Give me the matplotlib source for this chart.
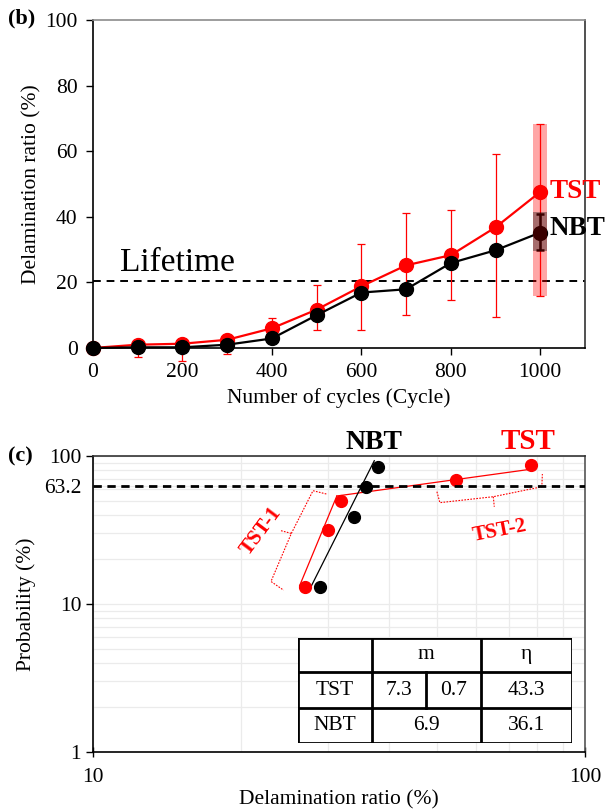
import matplotlib.pyplot as plt
from matplotlib.patches import Rectangle
from matplotlib.ticker import LogLocator, NullFormatter

plt.rcParams['font.family'] = ['Liberation Serif', 'DejaVu Serif']
plt.rcParams['font.size'] = 15.5

# (b) delamination ratio vs cycles
cycles = [0, 100, 200, 300, 400, 500, 600, 700, 800, 900, 1000]
tst_mean = [0.0, 1.0, 1.3, 2.5, 6.0, 11.7, 18.8, 25.2, 28.3, 36.8, 47.6]
nbt_mean = [0.0, 0.2, 0.2, 1.0, 2.9, 10.0, 16.9, 17.9, 25.9, 29.8, 35.2]
tst_low = [0.0, -2.6, -3.9, -1.8, 2.4, 5.6, 5.6, 10.2, 14.5, 9.5, 15.8]
tst_high = [0.0, 1.0, 1.3, 2.5, 9.2, 19.3, 31.6, 41.2, 42.2, 59.2, 68.2]
nbt_last_low, nbt_last_high = 30.0, 41.0
lifetime_level = 20.3

# (c) Weibull plot
tst_ratio = [27.0, 30.0, 31.9, 54.7, 77.7]
tst_prob = [13.0, 31.5, 50.0, 68.5, 87.0]
nbt_ratio = [28.9, 34.0, 35.8, 38.0]
nbt_prob = [13.0, 38.6, 61.4, 84.1]
tst1_fit_x, tst1_fit_y = [26.3, 31.3], [13.3, 53.7]
tst2_fit_x, tst2_fit_y = [31.3, 77.3], [53.7, 81.3]
nbt_fit_x, nbt_fit_y = [27.8, 37.3], [13.3, 93.0]
char_prob = 63.2

# bracket annotations (data coords)
tst1_brace_x = [29.8, 28.0, 25.3, 23.0, 24.4]
tst1_brace_y = [55.4, 58.3, 30.0, 14.2, 12.4]
tst1_tick_x, tst1_tick_y = [25.3, 24.1], [30.0, 31.3]
tst2_brace_x = [50.0, 50.7, 65.1, 81.7, 81.9]
tst2_brace_y = [57.4, 48.4, 53.1, 62.0, 75.6]
tst2_tick_x, tst2_tick_y = [65.1, 65.4], [53.1, 45.4]

# table
table_header = ['', 'm', 'η']
table_tst = ['TST', '7.3', '0.7', '43.3']
table_nbt = ['NBT', '6.9', '36.1']

RED = '#ff0000'

fig = plt.figure(figsize=(6.07, 8.10), dpi=100)

# ---------------- (b) ----------------
ax = fig.add_axes([0.1532, 0.5704, 0.8106, 0.4049])
ax.errorbar(cycles, tst_mean,
            yerr=[[m - l for m, l in zip(tst_mean, tst_low)],
                  [h - m for m, h in zip(tst_mean, tst_high)]],
            fmt='none', ecolor=RED, elinewidth=0.9, capsize=3, capthick=0.9,
            zorder=2, clip_on=False)
ax.plot(cycles, tst_mean, '-o', color=RED, lw=1.6, ms=10, zorder=3, clip_on=False)
ax.plot(cycles, nbt_mean, '-o', color='black', lw=1.6, ms=10, zorder=4, clip_on=False)
ax.errorbar([cycles[-1]], [nbt_mean[-1]],
            yerr=[[nbt_mean[-1] - nbt_last_low], [nbt_last_high - nbt_mean[-1]]],
            fmt='none', ecolor='black', elinewidth=1.8, capsize=3, capthick=1.8, zorder=5)
ax.add_patch(Rectangle((cycles[-1] - 16, tst_low[-1]), 32, tst_high[-1] - tst_low[-1],
                       facecolor=RED, alpha=0.35, edgecolor='none', zorder=6))
ax.add_patch(Rectangle((cycles[-1] - 16, nbt_last_low - 0.5), 32, nbt_last_high - nbt_last_low + 1,
                       facecolor='black', alpha=0.35, edgecolor='none', zorder=6))
ax.axhline(lifetime_level, color='black', ls=(0, (4, 3)), lw=1.4, zorder=1)
ax.text(60, lifetime_level + 3.3, 'Lifetime', fontsize=24, ha='left', va='baseline')
ax.text(1021, tst_mean[-1], 'TST', color=RED, fontsize=19.5, fontweight='bold',
        ha='left', va='center', clip_on=False)
ax.text(1021, nbt_mean[-1] + 1.2, 'NBT', color='black', fontsize=19.5, fontweight='bold',
        ha='left', va='center', clip_on=False)

ax.set_xlim(0, 1100)
ax.set_ylim(0, 100)
ax.set_xticks(range(0, 1001, 200))
ax.set_yticks(range(0, 101, 20))
ax.tick_params(direction='out', length=5, width=1, pad=6)
ax.set_xlabel('Number of cycles (Cycle)')
ax.set_ylabel('Delamination ratio (%)')
ax.yaxis.set_label_coords(-0.105, 0.5)
ax.spines['top'].set_color('#8c8c8c')
ax.spines['right'].set_color('#333333')
for s in ax.spines.values():
    s.set_linewidth(1.2)

# ---------------- (c) ----------------
bx = fig.add_axes([0.1532, 0.0716, 0.8106, 0.3654])
bx.set_xscale('log')
bx.set_yscale('log')
bx.set_xlim(10, 100)
bx.set_ylim(1, 100)
bx.xaxis.set_minor_locator(LogLocator(base=10, subs=range(2, 10)))
bx.yaxis.set_minor_locator(LogLocator(base=10, subs=range(2, 10)))
bx.xaxis.set_minor_formatter(NullFormatter())
bx.yaxis.set_minor_formatter(NullFormatter())
bx.grid(True, which='both', color='#ebebeb', lw=0.9, zorder=0)

bx.plot(tst1_fit_x, tst1_fit_y, color=RED, lw=0.9, zorder=3)
bx.plot(tst2_fit_x, tst2_fit_y, color=RED, lw=0.9, zorder=3)
bx.plot(nbt_fit_x, nbt_fit_y, color='black', lw=0.9, zorder=3)
bx.plot(tst_ratio, tst_prob, 'o', color=RED, ms=8.5, zorder=4)
bx.plot(nbt_ratio, nbt_prob, 'o', color='black', ms=8.5, zorder=4)
bx.axhline(char_prob, color='black', ls=(0, (3, 2)), lw=2.0, zorder=5)

brace_style = dict(color=RED, lw=0.8, ls=(0, (1.5, 1.2)), zorder=3)
bx.plot(tst1_brace_x, tst1_brace_y, **brace_style)
bx.plot(tst1_tick_x, tst1_tick_y, **brace_style)
bx.plot(tst2_brace_x, tst2_brace_y, **brace_style)
bx.plot(tst2_tick_x, tst2_tick_y, **brace_style)
bx.text(22.0, 31.0, 'TST-1', color=RED, fontsize=15, fontweight='bold',
        rotation=53, ha='center', va='center')
bx.text(67.0, 31.0, 'TST-2', color=RED, fontsize=15, fontweight='bold',
        rotation=11, ha='center', va='center')
bx.text(37.3, 101, 'NBT', color='black', fontsize=20, fontweight='bold',
        ha='center', va='bottom')
bx.text(76.5, 101, 'TST', color=RED, fontsize=21, fontweight='bold',
        ha='center', va='bottom')

bx.set_xticks([10, 100])
bx.set_xticklabels(['10', '100'])
bx.set_yticks([1, 10, char_prob, 100])
bx.set_yticklabels(['1', '10', '63.2', '100'])
bx.tick_params(axis='x', which='major', direction='inout', length=7, width=1, pad=8)
bx.tick_params(axis='y', which='major', direction='out', length=5, width=1)
bx.tick_params(which='minor', length=0)
bx.yaxis.get_major_ticks()[2].tick1line.set_visible(False)
bx.set_xlabel('Delamination ratio (%)', labelpad=2)
bx.set_ylabel('Probability (%)')
bx.yaxis.set_label_coords(-0.115, 0.5)
bx.spines['right'].set_color('#555555')
bx.spines['top'].set_color('#333333')
for s in bx.spines.values():
    s.set_linewidth(1.2)

# table drawn in an inset axes
tx = fig.add_axes([0.4914, 0.0832, 0.4503, 0.1296])
tx.set_xlim(0, 1)
tx.set_ylim(0, 1)
tx.axis('off')
tx.add_patch(Rectangle((0, 0), 1, 1, facecolor='white', edgecolor='black', lw=2, zorder=1))
cols = [0, 0.268, 0.469, 0.669, 1]
rows = [1, 0.67, 0.328, 0]
for yy in rows[1:-1]:
    tx.plot([0, 1], [yy, yy], color='black', lw=2, zorder=2)
tx.plot([cols[1], cols[1]], [0, 1], color='black', lw=2, zorder=2)
tx.plot([cols[3], cols[3]], [0, 1], color='black', lw=2, zorder=2)
tx.plot([cols[2], cols[2]], [rows[2], rows[1]], color='black', lw=2, zorder=2)

def cell(x0, x1, r, txt):
    tx.text((x0 + x1) / 2, (rows[r] + rows[r + 1]) / 2, txt, ha='center', va='center',
            fontsize=15.5, zorder=3)

cell(cols[0], cols[1], 0, table_header[0])
cell(cols[1], cols[3], 0, table_header[1])
cell(cols[3], cols[4], 0, table_header[2])
for i, t in enumerate(table_tst):
    cell(cols[i], cols[i + 1], 1, t)
cell(cols[0], cols[1], 2, table_nbt[0])
cell(cols[1], cols[3], 2, table_nbt[1])
cell(cols[3], cols[4], 2, table_nbt[2])

fig.text(8 / 607, 1 - 18 / 810, '(b)', fontsize=16, fontweight='bold', va='center')
fig.text(8 / 607, 1 - 456 / 810, '(c)', fontsize=16, fontweight='bold', va='center')

fig.savefig('out.png', dpi=100)
